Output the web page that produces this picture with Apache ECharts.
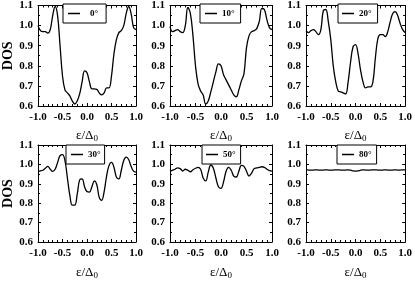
<!DOCTYPE html>
<html><head><meta charset="utf-8">
<script src="https://cdn.jsdelivr.net/npm/echarts@6/dist/echarts.min.js"></script>
<style>html,body{margin:0;padding:0;background:#fff}#c{width:415px;height:281px}</style>
</head><body><div id="c"></div>
<script>
const energies = [-1.0,-0.95,-0.9,-0.85,-0.8,-0.75,-0.7,-0.65,-0.6,-0.55,-0.5,-0.45,-0.4,-0.35,-0.3,-0.25,-0.2,-0.15,-0.1,-0.05,0,0.05,0.1,0.15,0.2,0.25,0.3,0.35,0.4,0.45,0.5,0.55,0.6,0.65,0.7,0.75,0.8,0.85,0.9,0.95,1.0];
const dos0  = [1.00,0.975,0.97,0.97,0.963,0.98,1.05,1.095,1.05,0.90,0.75,0.68,0.665,0.65,0.625,0.61,0.625,0.66,0.72,0.775,0.765,0.72,0.685,0.685,0.683,0.665,0.655,0.665,0.69,0.69,0.75,0.86,0.93,0.965,0.975,1.0,1.06,1.095,1.06,0.99,0.98];
const dos10 = [0.995,0.97,0.975,0.98,0.97,0.965,1.0,1.09,1.06,0.95,0.80,0.71,0.675,0.655,0.61,0.625,0.67,0.72,0.77,0.81,0.80,0.755,0.73,0.705,0.68,0.655,0.645,0.68,0.725,0.76,0.89,0.95,0.97,0.975,0.985,1.02,1.085,1.08,1.03,0.99,0.98];
const dos20 = [0.975,0.965,0.975,0.98,0.97,0.955,0.98,1.075,1.08,1.02,0.93,0.80,0.72,0.675,0.67,0.665,0.66,0.72,0.82,0.895,0.905,0.86,0.78,0.72,0.69,0.695,0.695,0.72,0.84,0.935,0.955,0.955,0.945,0.97,1.02,1.06,1.07,1.05,1.01,0.98,0.965];
const dos30 = [0.965,0.967,0.97,0.98,0.99,0.975,0.964,0.975,1.01,1.045,1.05,1.02,0.93,0.84,0.79,0.79,0.845,0.92,0.925,0.885,0.86,0.857,0.885,0.915,0.895,0.83,0.815,0.86,0.94,0.995,1.01,0.985,0.935,0.925,0.97,1.02,1.037,1.025,0.99,0.965,0.96];
const dos50 = [0.965,0.97,0.975,0.982,0.978,0.966,0.975,0.97,0.962,0.972,0.98,0.985,0.975,0.93,0.915,0.96,0.997,0.98,0.93,0.885,0.876,0.91,0.965,0.985,0.97,0.94,0.935,0.965,0.995,0.99,0.965,0.94,0.955,0.978,0.982,0.985,0.988,0.985,0.975,0.968,0.965];
const dos80 = [0.972,0.971,0.970,0.971,0.972,0.971,0.970,0.971,0.972,0.971,0.970,0.971,0.972,0.972,0.971,0.970,0.971,0.972,0.970,0.967,0.965,0.967,0.970,0.972,0.971,0.970,0.971,0.972,0.972,0.971,0.970,0.971,0.972,0.971,0.970,0.971,0.972,0.971,0.971,0.972,0.972];
const angleLabels = ['0°','10°','20°','30°','50°','80°'];
const dosSets = [dos0,dos10,dos20,dos30,dos50,dos80];
const yAxisName = 'DOS';

const FF = "'Liberation Serif','DejaVu Serif',serif";
const grids = [
  {left:34, top:4, width:102, height:102},
  {left:170, top:4, width:102, height:102},
  {left:306, top:4, width:100, height:102},
  {left:34, top:145, width:102, height:101},
  {left:170, top:145, width:102, height:101},
  {left:306, top:145, width:100, height:101}
];
const legendPos = [
  {left:63, top:4, padding:[5,8,5,5], tp:[0,0,0,5]},
  {left:200, top:4, padding:[5,6,5,5], tp:[0,0,0,0]},
  {left:338, top:4, padding:[5,6,5,4], tp:[0,0,0,0]},
  {left:66, top:145, padding:[5,4,5,5], tp:[0,0,0,0]},
  {left:202, top:145, padding:[5,5,5,4], tp:[0,0,0,0]},
  {left:337, top:145, padding:[5,5,5,5], tp:[0,0,0,0]}
];
const xAxes = [], yAxes = [], series = [], legends = [];
const tickCommon = {inside:true, length:3, lineStyle:{color:'#000', width:1}};
const minorX = {show:true, splitNumber:5, length:2, lineStyle:{color:'#000', width:1}};
const minorY = {show:true, splitNumber:2, length:2, lineStyle:{color:'#000', width:1}};
const lineCommon = {show:true, onZero:false, lineStyle:{color:'#000', width:1}};
grids.forEach((g,i)=>{
  xAxes.push({gridIndex:i, type:'value', min:-1, max:1, interval:0.5, position:'bottom',
    axisLine:lineCommon, axisTick:tickCommon, minorTick:minorX, splitLine:{show:false},
    axisLabel:{color:'#000', fontFamily:FF, fontWeight:'bold', fontSize:11, margin:6, showMinLabel:true, showMaxLabel:true, formatter:v=>v.toFixed(1)},
    name:'{e|ε/Δ}{s|0}', nameLocation:'middle', nameGap:i<3?22:23,
    nameTextStyle:{rich:{e:{fontFamily:FF, fontSize:13, color:'#000'}, s:{fontFamily:FF, fontSize:9, color:'#000', padding:[6,0,0,0]}}}
  });
  xAxes.push({gridIndex:i, type:'value', min:-1, max:1, interval:0.5, position:'top',
    axisLine:lineCommon, axisTick:tickCommon, minorTick:minorX, splitLine:{show:false}, axisLabel:{show:false}});
  const ya = {gridIndex:i, type:'value', min:0.6, max:1.1, interval:0.1, position:'left',
    axisLine:lineCommon, axisTick:tickCommon, minorTick:minorY, splitLine:{show:false},
    axisLabel:{color:'#000', fontFamily:FF, fontWeight:'bold', fontSize:11, margin:5, showMinLabel:true, showMaxLabel:true, formatter:v=>v.toFixed(1)}};
  if (i===0 || i===3) {
    ya.name = yAxisName; ya.nameLocation='middle'; ya.nameGap=23;
    ya.nameTextStyle = {fontFamily:FF, fontWeight:'bold', fontSize:14, color:'#000'};
  }
  yAxes.push(ya);
  yAxes.push({gridIndex:i, type:'value', min:0.6, max:1.1, interval:0.1, position:'right',
    axisLine:lineCommon, axisTick:tickCommon, minorTick:minorY, splitLine:{show:false}, axisLabel:{show:false}});
  series.push({name:angleLabels[i], type:'line', xAxisIndex:2*i, yAxisIndex:2*i, smooth:0.4, symbol:'none', clip:true,
    lineStyle:{color:'#000', width:1.3}, itemStyle:{color:'#000'},
    data: energies.map((x,j)=>[x, dosSets[i][j]])});
  const lp = legendPos[i];
  legends.push({data:[angleLabels[i]], left:lp.left, top:lp.top, padding:lp.padding, orient:'horizontal',
    borderColor:'#000', borderWidth:1, borderRadius:0, backgroundColor:'#fff', icon:'rect', itemWidth:12, itemHeight:1.5, itemGap:0,
    selectedMode:false, textStyle:{fontFamily:FF, fontWeight:'bold', fontSize:9, color:'#000', padding:lp.tp}});
});
const chart = echarts.init(document.getElementById('c'), null, {renderer:'canvas'});
chart.setOption({animation:false, backgroundColor:'#fff', grid:grids, xAxis:xAxes, yAxis:yAxes, legend:legends, series});
</script></body></html>
